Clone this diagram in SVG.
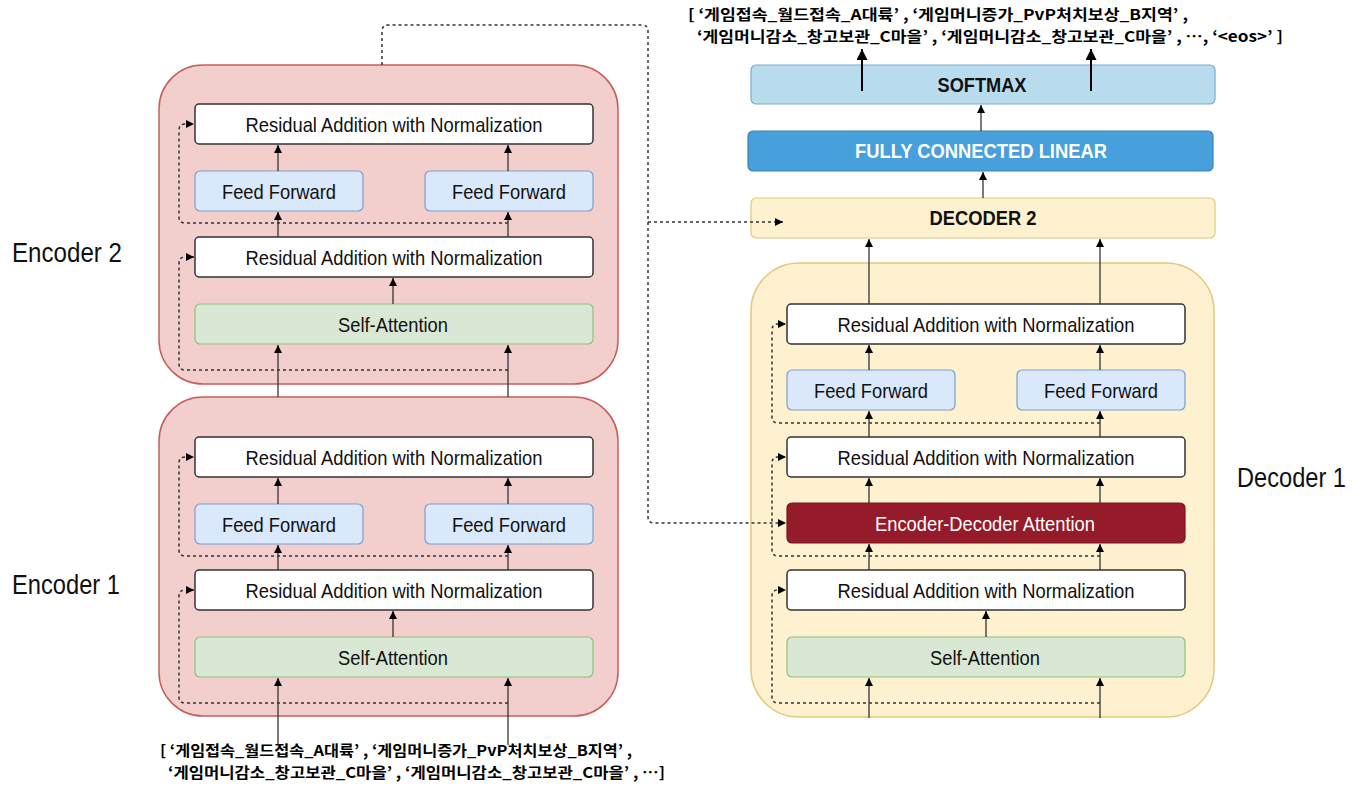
<svg xmlns="http://www.w3.org/2000/svg" width="1364" height="792" viewBox="0 0 1364 792">
<style>
.enc{fill:#f2cfcc;stroke:#c4615c;stroke-width:1.5}
.dec{fill:#fdf1cf;stroke:#e2c97e;stroke-width:1.5}
.ra{fill:#ffffff;stroke:#333;stroke-width:1.5}
.ff{fill:#dae8fc;stroke:#7d9dcc;stroke-width:1.2}
.sa{fill:#d9e8d5;stroke:#92c07a;stroke-width:1.2}
.eda{fill:#951b2a;stroke:#7a1420;stroke-width:1.2}
.d2{fill:#fdf1cf;stroke:#e2c97e;stroke-width:1.2}
.fcl{fill:#479fdb;stroke:#3a82bd;stroke-width:1.2}
.sm{fill:#b8dcee;stroke:#7aaccb;stroke-width:1.2}
text{font-family:"Liberation Sans",Arial,sans-serif;fill:#111}
.t{font-size:21px;text-anchor:middle}
.b{font-size:20px;font-weight:bold;text-anchor:middle}
.w{fill:#ffffff}
.lbl{font-size:27px}
.tok{font-family:"Noto Sans CJK KR","Liberation Sans",sans-serif;font-size:15px;font-weight:bold;fill:#000}
.ar{stroke:#333;stroke-width:1.3;fill:none;marker-end:url(#ah)}
.ds{stroke:#333;stroke-width:1.5;fill:none;stroke-dasharray:3 3;marker-end:url(#ah)}
.out{stroke:#000;stroke-width:2;fill:none;marker-end:url(#ah2)}
</style>
<defs>
<marker id="ah" viewBox="0 0 10 10" refX="10" refY="5" markerWidth="8" markerHeight="8" markerUnits="userSpaceOnUse" orient="auto"><path d="M0,0 L10,5 L0,10 z" fill="#000"/></marker>
<marker id="ah2" viewBox="0 0 10 10" refX="10" refY="5" markerWidth="11" markerHeight="11" markerUnits="userSpaceOnUse" orient="auto"><path d="M0,0 L10,5 L0,10 z" fill="#000"/></marker>
</defs>

<!-- labels -->
<text class="lbl" x="12" y="262" textLength="110" lengthAdjust="spacingAndGlyphs">Encoder 2</text>
<text class="lbl" x="12" y="594" textLength="108" lengthAdjust="spacingAndGlyphs">Encoder 1</text>
<text class="lbl" x="1237" y="487" textLength="109" lengthAdjust="spacingAndGlyphs">Decoder 1</text>

<!-- token texts -->
<text class="tok" x="688" y="20" textLength="500" lengthAdjust="spacingAndGlyphs">[ ‘게임접속_월드접속_A대륙’ , ‘게임머니증가_PvP처치보상_B지역’ ,</text>
<text class="tok" x="697" y="42" textLength="586" lengthAdjust="spacingAndGlyphs">‘게임머니감소_창고보관_C마을’ ,  ‘게임머니감소_창고보관_C마을’ , …,  ‘&lt;eos&gt;’ ]</text>
<text class="tok" x="160" y="756" textLength="472" lengthAdjust="spacingAndGlyphs">[ ‘게임접속_월드접속_A대륙’ , ‘게임머니증가_PvP처치보상_B지역’ ,</text>
<text class="tok" x="168" y="778" textLength="497" lengthAdjust="spacingAndGlyphs">‘게임머니감소_창고보관_C마을’ ,  ‘게임머니감소_창고보관_C마을’ , …]</text>

<!-- Encoder 2 -->
<g id="encoder2">
<rect class="enc" x="159" y="65" width="459" height="319" rx="44"/>
<rect class="ra" x="195" y="104" width="398" height="40" rx="4"/>
<text class="t" x="394" y="132" textLength="297" lengthAdjust="spacingAndGlyphs">Residual Addition with Normalization</text>
<rect class="ff" x="195" y="171" width="168" height="40" rx="5"/>
<text class="t" x="279" y="199" textLength="114" lengthAdjust="spacingAndGlyphs">Feed Forward</text>
<rect class="ff" x="425" y="171" width="168" height="40" rx="5"/>
<text class="t" x="509" y="199" textLength="114" lengthAdjust="spacingAndGlyphs">Feed Forward</text>
<rect class="ra" x="195" y="237" width="398" height="40" rx="4"/>
<text class="t" x="394" y="265" textLength="297" lengthAdjust="spacingAndGlyphs">Residual Addition with Normalization</text>
<rect class="sa" x="195" y="304" width="398" height="40" rx="5"/>
<text class="t" x="393" y="332" textLength="110" lengthAdjust="spacingAndGlyphs">Self-Attention</text>
</g>

<!-- Encoder 1 -->
<g id="encoder1">
<rect class="enc" x="159" y="397" width="459" height="319" rx="44"/>
<rect class="ra" x="195" y="437" width="398" height="40" rx="4"/>
<text class="t" x="394" y="465" textLength="297" lengthAdjust="spacingAndGlyphs">Residual Addition with Normalization</text>
<rect class="ff" x="195" y="504" width="168" height="40" rx="5"/>
<text class="t" x="279" y="532" textLength="114" lengthAdjust="spacingAndGlyphs">Feed Forward</text>
<rect class="ff" x="425" y="504" width="168" height="40" rx="5"/>
<text class="t" x="509" y="532" textLength="114" lengthAdjust="spacingAndGlyphs">Feed Forward</text>
<rect class="ra" x="195" y="570" width="398" height="40" rx="4"/>
<text class="t" x="394" y="598" textLength="297" lengthAdjust="spacingAndGlyphs">Residual Addition with Normalization</text>
<rect class="sa" x="195" y="637" width="398" height="40" rx="5"/>
<text class="t" x="393" y="665" textLength="110" lengthAdjust="spacingAndGlyphs">Self-Attention</text>
</g>

<!-- Decoder 1 -->
<g id="decoder1">
<rect class="dec" x="751" y="263" width="463" height="454" rx="48"/>
<rect class="ra" x="787" y="304" width="398" height="40" rx="4"/>
<text class="t" x="986" y="332" textLength="297" lengthAdjust="spacingAndGlyphs">Residual Addition with Normalization</text>
<rect class="ff" x="787" y="370" width="168" height="40" rx="5"/>
<text class="t" x="871" y="398" textLength="114" lengthAdjust="spacingAndGlyphs">Feed Forward</text>
<rect class="ff" x="1017" y="370" width="168" height="40" rx="5"/>
<text class="t" x="1101" y="398" textLength="114" lengthAdjust="spacingAndGlyphs">Feed Forward</text>
<rect class="ra" x="787" y="437" width="398" height="40" rx="4"/>
<text class="t" x="986" y="465" textLength="297" lengthAdjust="spacingAndGlyphs">Residual Addition with Normalization</text>
<rect class="eda" x="787" y="503" width="398" height="40" rx="5"/>
<text class="t w" x="985" y="531" textLength="220" lengthAdjust="spacingAndGlyphs">Encoder-Decoder Attention</text>
<rect class="ra" x="787" y="570" width="398" height="40" rx="4"/>
<text class="t" x="986" y="598" textLength="297" lengthAdjust="spacingAndGlyphs">Residual Addition with Normalization</text>
<rect class="sa" x="787" y="637" width="398" height="40" rx="5"/>
<text class="t" x="985" y="665" textLength="110" lengthAdjust="spacingAndGlyphs">Self-Attention</text>
</g>

<g id="decoder2">
<rect class="d2" x="751" y="198" width="464" height="40" rx="5"/>
<text class="b" x="983" y="225" textLength="107" lengthAdjust="spacingAndGlyphs">DECODER 2</text>
</g>
<g id="fcl">
<rect class="fcl" x="748" y="131" width="465" height="40" rx="5"/>
<text class="b w" x="981" y="158" textLength="252" lengthAdjust="spacingAndGlyphs">FULLY CONNECTED LINEAR</text>
</g>
<g id="softmax">
<rect class="sm" x="751" y="65" width="464" height="39" rx="5"/>
<text class="b" x="982" y="92" textLength="89" lengthAdjust="spacingAndGlyphs">SOFTMAX</text>
</g>

<g id="connectors">
<path class="ar" d="M278,745 V678"/>
<path class="ar" d="M508,745 V678"/>
<path class="ar" d="M393,637 V611"/>
<path class="ar" d="M278,570 V545"/>
<path class="ar" d="M508,570 V545"/>
<path class="ar" d="M278,504 V478"/>
<path class="ar" d="M508,504 V478"/>
<path class="ds" d="M508,703 H185 Q179,703 179,697 V596 Q179,590 185,590 H194"/>
<path class="ds" d="M508,556 H185 Q179,556 179,550 V463 Q179,457 185,457 H194"/>
<path class="ar" d="M278,397 V345"/>
<path class="ar" d="M508,397 V345"/>
<path class="ar" d="M393,304 V278"/>
<path class="ar" d="M278,237 V212"/>
<path class="ar" d="M508,237 V212"/>
<path class="ar" d="M278,171 V145"/>
<path class="ar" d="M508,171 V145"/>
<path class="ds" d="M508,370 H185 Q179,370 179,364 V263 Q179,257 185,257 H194"/>
<path class="ds" d="M508,223 H185 Q179,223 179,217 V130 Q179,124 185,124 H194"/>
<path class="ds" d="M382,65 V31 Q382,25 388,25 H642 Q648,25 648,31 V517 Q648,523 654,523 H786"/>
<path class="ds" d="M648,222 H783"/>
<path class="ar" d="M869,718 V678"/>
<path class="ar" d="M1100,718 V678"/>
<path class="ar" d="M986,637 V611"/>
<path class="ar" d="M869,570 V544"/>
<path class="ar" d="M1100,570 V544"/>
<path class="ar" d="M869,503 V478"/>
<path class="ar" d="M1100,503 V478"/>
<path class="ar" d="M869,437 V411"/>
<path class="ar" d="M1100,437 V411"/>
<path class="ar" d="M869,370 V345"/>
<path class="ar" d="M1100,370 V345"/>
<path class="ar" d="M869,304 V239"/>
<path class="ar" d="M1100,304 V239"/>
<path class="ds" d="M1100,703 H778 Q772,703 772,697 V596 Q772,590 778,590 H786"/>
<path class="ds" d="M1100,556 H778 Q772,556 772,550 V463 Q772,457 778,457 H786"/>
<path class="ds" d="M1100,423 H778 Q772,423 772,417 V330 Q772,324 778,324 H786"/>
<path class="ar" d="M983,198 V172"/>
<path class="ar" d="M981,131 V105"/>
<path class="out" d="M862,91 V49"/>
<path class="out" d="M1091,91 V49"/>
</g>
</svg>
